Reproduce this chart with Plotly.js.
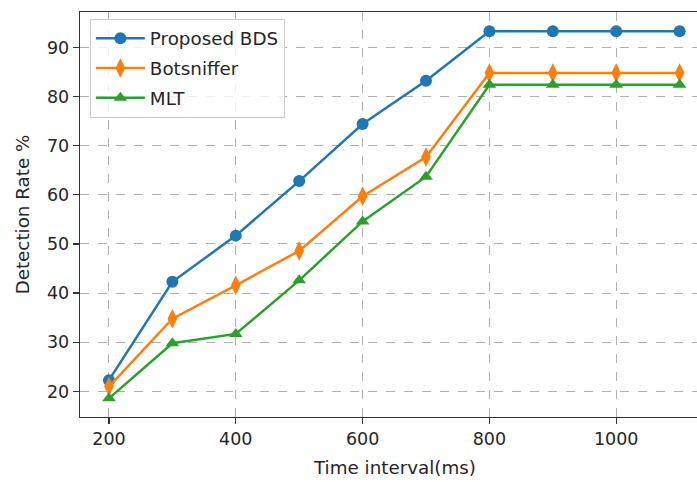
<!DOCTYPE html>
<html>
<head>
<meta charset="utf-8">
<script src="https://cdn.plot.ly/plotly-3.0.1.min.js"></script>
<style>html,body{margin:0;padding:0;background:#fff;}#chart{width:697px;height:482px;}</style>
</head>
<body>
<div id="chart"></div>
<script>
const timeInterval = [200, 300, 400, 500, 600, 700, 800, 900, 1000, 1100];
const proposedBDS = [22.3, 42.3, 51.7, 62.8, 74.4, 83.2, 93.3, 93.3, 93.3, 93.3];
const botsniffer = [21.0, 34.8, 41.6, 48.6, 59.7, 67.7, 84.8, 84.8, 84.8, 84.8];
const mlt = [18.6, 29.8, 31.7, 42.6, 54.6, 63.7, 82.4, 82.4, 82.4, 82.4];
const xTicks = [200, 400, 600, 800, 1000];
const yTicks = [20, 30, 40, 50, 60, 70, 80, 90];
const xTitle = "Time interval(ms)";
const yTitle = "Detection Rate %";

const font = {family: "DejaVu Sans", size: 18.3, color: "#262626"};
const tickFont = {family: "DejaVu Sans", size: 17.5, color: "#262626"};

const traces = [
  {x: timeInterval, y: proposedBDS, name: "Proposed BDS", mode: "lines+markers", legendgroup: "a",
   line: {color: "#1f77b4", width: 2.5}, marker: {symbol: "circle", size: 12, color: "#1f77b4"}},
  {x: timeInterval, y: botsniffer, name: "Botsniffer", mode: "lines+markers", legendgroup: "b",
   line: {color: "#ff7f0e", width: 2.5}, marker: {symbol: "diamond-tall", size: 14, color: "#ff7f0e"}},
  {x: timeInterval, y: mlt, name: "MLT", mode: "lines+markers", legendgroup: "c",
   line: {color: "#2ca02c", width: 2.5}, marker: {symbol: "triangle-up", size: 12, color: "#2ca02c"}}
];

const layout = {
  width: 697, height: 482,
  margin: {l: 80, r: 0, t: 12, b: 65},
  paper_bgcolor: "#fff", plot_bgcolor: "#fff",
  font: font,
  showlegend: true,
  legend: {x: 0.016, y: 0.983, xanchor: "left", yanchor: "top",
           bgcolor: "rgba(255,255,255,0.8)", bordercolor: "#cccccc", borderwidth: 1,
           font: font, itemwidth: 49, tracegroupgap: 3},
  xaxis: {
    range: [154.3, 1127.4], tickvals: xTicks, ticktext: xTicks.map(String),
    showgrid: true, gridcolor: "#b0b0b0", gridwidth: 1, griddash: "dash",
    showline: true, linecolor: "#333", linewidth: 1.3, mirror: true,
    ticks: "outside", ticklen: 6, tickcolor: "#333", tickwidth: 1.3,
    zeroline: false, tickfont: tickFont
  },
  yaxis: {
    range: [14.8, 97.2], tickvals: yTicks, ticktext: yTicks.map(String),
    showgrid: true, gridcolor: "#b0b0b0", gridwidth: 1, griddash: "dash",
    showline: true, linecolor: "#333", linewidth: 1.3, mirror: false,
    ticks: "outside", ticklen: 6, tickcolor: "#333", tickwidth: 1.3,
    zeroline: false, tickfont: tickFont,
    title: {text: yTitle, font: font, standoff: 12}
  },
  annotations: [
    {text: xTitle, xref: "x", yref: "paper", x: 650, y: -0.125,
     xanchor: "center", yanchor: "middle", showarrow: false, font: font}
  ]
};

Plotly.newPlot("chart", traces, layout, {displayModeBar: false, staticPlot: true});
</script>
</body>
</html>
